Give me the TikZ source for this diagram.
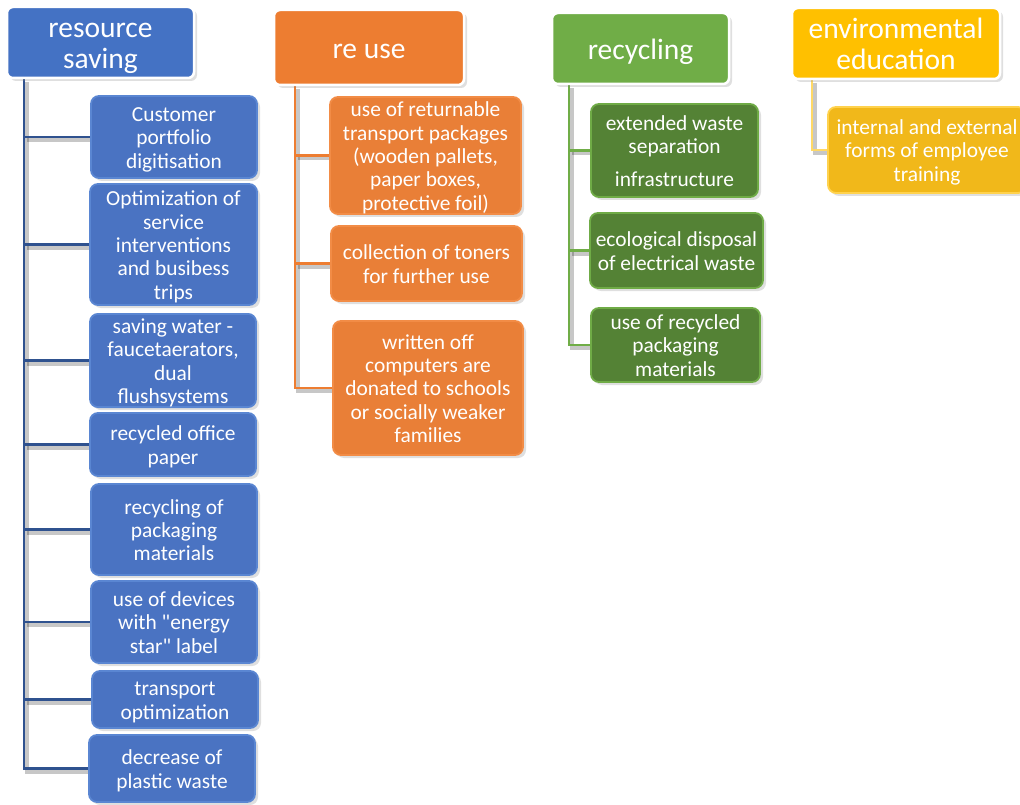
\documentclass[tikz,border=0pt]{standalone}
\usepackage{fontspec}
\setmainfont{Carlito}
\usetikzlibrary{shadows,backgrounds}
\definecolor{blueH}{HTML}{4472C4}
\definecolor{blueC}{HTML}{4A73C2}
\definecolor{blueB}{HTML}{5A86D2}
\definecolor{blueL}{HTML}{2F528F}
\definecolor{orH}{HTML}{ED7D31}
\definecolor{orC}{HTML}{E97F37}
\definecolor{orB}{HTML}{F28C46}
\definecolor{grH}{HTML}{70AD47}
\definecolor{grC}{HTML}{548235}
\definecolor{grB}{HTML}{6FAB46}
\definecolor{yeH}{HTML}{FFC000}
\definecolor{yeC}{HTML}{F1B81A}
\definecolor{yeB}{HTML}{FFD24D}
\definecolor{yeL}{HTML}{FFD966}
\newcommand\mytopstrut{\rule{0pt}{0.84\baselineskip}}
\newcommand\mybotstrut{\rule[-0.16\baselineskip]{0pt}{0pt}}
\newcommand\bx[7]{\node[#6, minimum width={#4-#2}, minimum height={#5-#3}] (#1) at ({(#2+#4)/2},{(#3+#5)/2}) {\mytopstrut#7\mybotstrut};}
\tikzset{
  hdr/.style={rounded corners=6pt, draw=white, line width=2.5pt, text=white,
    font=\fontsize{29.5}{31.5}\selectfont, align=center, inner sep=0pt,
    drop shadow={opacity=0.25, shadow xshift=3pt, shadow yshift=-3pt}},
  child/.style={rounded corners=8pt, line width=1.8pt, text=white,
    font=\fontsize{21.4}{23.3}\selectfont, align=center, inner sep=0pt,
    drop shadow={opacity=0.25, shadow xshift=3pt, shadow yshift=-3pt}},
  conn/.style={line width=2.6pt,
    preaction={draw=black, opacity=0.22, line width=4pt, transform canvas={shift={(3pt,-3pt)}}}},
}
\begin{document}
\begin{tikzpicture}[x=1pt,y=-1pt]
\useasboundingbox (0,0) rectangle (1020,805);
% headers
\bx{rs}{7}{7}{194}{78}{hdr, fill=blueH}{resource\\saving}
\bx{ru}{274}{10}{464}{85}{hdr, fill=orH}{re use}
\bx{rc}{552}{13}{729}{84}{hdr, fill=grH}{recycling}
\bx{ee}{792}{8}{1000}{79}{hdr, fill=yeH}{environmental\\education}
% blue children
\bx{b1}{91}{96}{257}{178}{child, fill=blueC, draw=blueB}{Customer\\portfolio\\digitisation}
\bx{b2}{90}{184}{257}{305}{child, fill=blueC, draw=blueB}{Optimization of\\service\\interventions\\and busibess\\trips}
\bx{b3}{90}{314}{256}{407}{child, fill=blueC, draw=blueB}{saving water -\\faucetaerators,\\dual\\flushsystems}
\bx{b4}{90}{413}{256}{476}{child, fill=blueC, draw=blueB}{recycled office\\paper}
\bx{b5}{91}{484}{257}{575}{child, fill=blueC, draw=blueB}{recycling of\\packaging\\materials}
\bx{b6}{91}{581}{257}{663}{child, fill=blueC, draw=blueB}{use of devices\\with \textquotedbl energy\\star\textquotedbl{} label}
\bx{b7}{92}{671}{258}{728}{child, fill=blueC, draw=blueB}{transport\\optimization}
\bx{b8}{89}{735}{255}{802}{child, fill=blueC, draw=blueB}{decrease of\\plastic waste}
% orange children
\bx{o1}{330}{97}{521}{214}{child, fill=orC, draw=orB}{use of returnable\\transport packages\\(wooden pallets,\\paper boxes,\\protective foil)}
\bx{o2}{331}{226}{522}{301}{child, fill=orC, draw=orB}{collection of toners\\for further use}
\bx{o3}{333}{321}{523}{455}{child, fill=orC, draw=orB}{written off\\computers are\\donated to schools\\or socially weaker\\families}
% green children
\bx{g1}{591}{104}{758}{197}{child, fill=grC, draw=grB}{extended waste\\separation\\[9pt]infrastructure}
\bx{g2}{590}{213}{763}{288}{child, fill=grC, draw=grB}{ecological disposal\\of electrical waste}
\bx{g3}{591}{308}{760}{382}{child, fill=grC, draw=grB}{use of recycled\\packaging\\materials}
% yellow child
\bx{y1}{828}{107}{1026}{193}{child, fill=yeC, draw=yeB}{internal and external\\forms of employee\\training}
% trunk coordinates
\coordinate (bt) at (24,0);
\coordinate (ot) at (295,0);
\coordinate (gt) at (569,0);
\coordinate (yt) at (812,0);
\begin{scope}[on background layer]
\draw[conn, blueL] (rs.south -| bt) |- (b8.west);
\foreach \n in {b1,b2,b3,b4,b5,b6,b7} \draw[conn, blueL] (bt |- \n.west) -- (\n.west);
\draw[conn, orH] (ru.south -| ot) |- (o3.west);
\foreach \n in {o1,o2} \draw[conn, orH] (ot |- \n.west) -- (\n.west);
\draw[conn, grH] (rc.south -| gt) |- (g3.west);
\foreach \n in {g1,g2} \draw[conn, grH] (gt |- \n.west) -- (\n.west);
\draw[conn, yeL] (ee.south -| yt) |- (y1.west);
\end{scope}
\end{tikzpicture}
\end{document}
